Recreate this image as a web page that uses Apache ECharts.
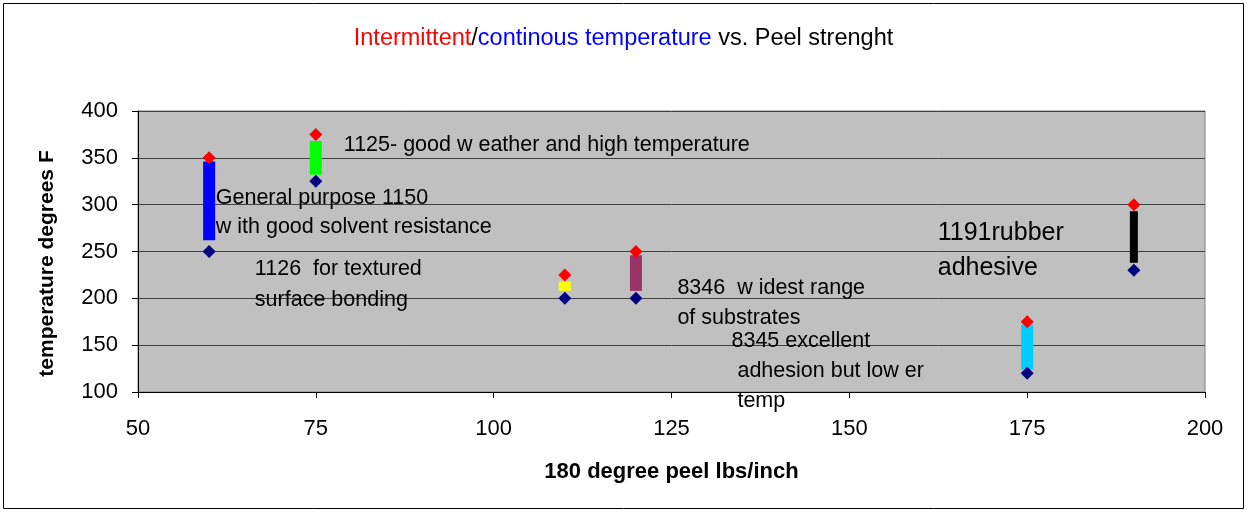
<!DOCTYPE html>
<html>
<head>
<meta charset="utf-8">
<script src="https://cdn.jsdelivr.net/npm/echarts@6/dist/echarts.min.js"></script>
<style>
  html, body { margin: 0; padding: 0; background: #fff; }
  #chart { width: 1247px; height: 512px; }
</style>
</head>
<body>
<div id="chart"></div>
<script>
// peel strength (x) and the two temperatures per adhesive
var peel = [60, 75, 110, 120, 175, 190];
var tempIntermittent = [350, 375, 225, 250, 175, 300];
var tempContinuous = [250, 325, 200, 200, 120, 230];
// coloured bars between the markers
var barTop = [346, 368, 218, 246, 172, 293];
var barBottom = [262, 332, 208, 208, 124, 238];
var barColors = ['#0000ff', '#00ff00', '#ffff00', '#993366', '#00ccff', '#000000'];
var barWidths = [12, 12, 12, 12, 12, 8];

// text boxes, anchored at their top-left corner
var noteX = [79, 61, 66.5, 125.9, 133.5, 162.5];
var noteY = [379, 321.5, 247, 226, 170, 287.5];
var noteText = [
  '1125- good w eather and high temperature',
  'General purpose 1150\nw ith good solvent resistance',
  '1126  for textured\nsurface bonding',
  '8346  w idest range\nof substrates',
  '8345 excellent\n adhesion but low er\n temp',
  '1191rubber\nadhesive'
];
var noteSizes = [21.5, 21.5, 21.5, 21.5, 21.5, 25];
var noteLines = [29, 29, 31, 30, 30, 35];

var font = '"Liberation Sans", Arial, sans-serif';

var series = [];
for (var i = 0; i < peel.length; i++) {
  series.push({
    type: 'line',
    data: [[peel[i], barBottom[i]], [peel[i], barTop[i]]],
    symbol: 'none',
    silent: true,
    z: 2,
    lineStyle: { color: barColors[i], width: barWidths[i], cap: 'butt' }
  });
}
series.push({
  type: 'scatter',
  data: peel.map(function (x, i) { return [x, tempIntermittent[i]]; }),
  symbol: 'diamond',
  symbolSize: 13,
  z: 3,
  itemStyle: { color: '#ff0000', opacity: 1 }
});
series.push({
  type: 'scatter',
  data: peel.map(function (x, i) { return [x, tempContinuous[i]]; }),
  symbol: 'diamond',
  symbolSize: 13,
  z: 3,
  itemStyle: { color: '#000080', opacity: 1 }
});
series.push({
  type: 'scatter',
  clip: false,
  silent: true,
  z: 4,
  symbolSize: 1,
  itemStyle: { color: 'rgba(0,0,0,0)', opacity: 1 },
  data: noteX.map(function (x, i) {
    return {
      value: [x, noteY[i]],
      label: {
        show: true,
        position: [0, 0],
        align: 'left',
        verticalAlign: 'top',
        formatter: noteText[i],
        color: '#000',
        opacity: 1,
        fontFamily: font,
        fontSize: noteSizes[i],
        lineHeight: noteLines[i]
      }
    };
  })
});

var options = {
  animation: false,
  backgroundColor: '#fff',
  title: {
    left: 'center',
    top: 22,
    text: '{r|Intermittent}{k|/}{b|continous temperature}{k| vs. Peel strenght}',
    textStyle: {
      fontWeight: 'normal',
      rich: {
        r: { color: '#ff0000', fontSize: 23.5, fontWeight: 'normal', fontFamily: font },
        b: { color: '#0000ff', fontSize: 23.5, fontWeight: 'normal', fontFamily: font },
        k: { color: '#000000', fontSize: 23.5, fontWeight: 'normal', fontFamily: font }
      }
    }
  },
  graphic: [{
    type: 'rect',
    shape: { x: 3.5, y: 3.5, width: 1240, height: 505 },
    style: { fill: 'none', stroke: '#000', lineWidth: 1 },
    silent: true
  }],
  grid: {
    left: 138, right: 42, top: 111, bottom: 120,
    show: true,
    backgroundColor: '#c0c0c0',
    borderColor: '#808080',
    borderWidth: 1
  },
  xAxis: {
    type: 'value',
    min: 50,
    max: 200,
    interval: 25,
    name: '180 degree peel lbs/inch',
    nameLocation: 'middle',
    nameGap: 69,
    nameTextStyle: { color: '#000', fontSize: 22, fontWeight: 'bold', fontFamily: font },
    axisLine: { show: true, lineStyle: { color: '#000', width: 1 } },
    axisTick: { show: true, length: 6, lineStyle: { color: '#000' } },
    axisLabel: { color: '#000', fontSize: 22, fontFamily: font, margin: 26 },
    splitLine: { show: false }
  },
  yAxis: {
    type: 'value',
    min: 100,
    max: 400,
    interval: 50,
    name: 'temperature degrees F',
    nameLocation: 'middle',
    nameGap: 80,
    nameTextStyle: { color: '#000', fontSize: 21, fontWeight: 'bold', fontFamily: font, padding: [0, 24, 0, 0] },
    axisLine: { show: true, lineStyle: { color: '#000', width: 1 } },
    axisTick: { show: true, length: 6, lineStyle: { color: '#000' } },
    axisLabel: { color: '#000', fontSize: 22, fontFamily: font, margin: 20 },
    splitLine: { show: true, lineStyle: { color: '#404040', width: 1 } }
  },
  series: series
};

var chart = echarts.init(document.getElementById('chart'));
chart.setOption(options);
</script>
</body>
</html>
